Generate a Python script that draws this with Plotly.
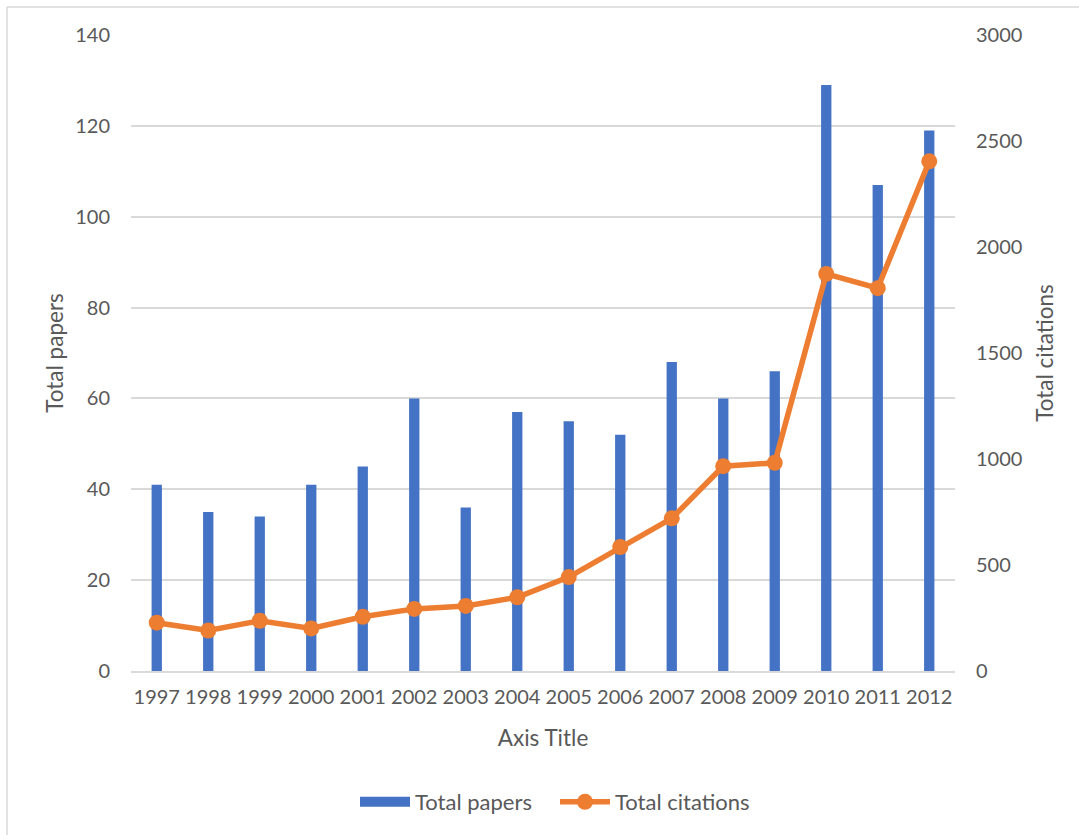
import plotly.graph_objects as go

years = ["1997", "1998", "1999", "2000", "2001", "2002", "2003", "2004",
         "2005", "2006", "2007", "2008", "2009", "2010", "2011", "2012"]
total_papers = [41, 35, 34, 41, 45, 60, 36, 57, 55, 52, 68, 60, 66, 129, 107, 119]
total_citations = [228, 191, 237, 201, 256, 293, 307, 348, 443, 585, 720, 966, 982, 1873, 1806, 2404]

FONT = "Lato"
GRAY = "#595959"
GRID = "#d9d9d9"
BLUE = "#4472C4"
ORANGE = "#ED7D31"
FS = 20
TFS = 22.5
LFS = 22

fig = go.Figure()
fig.add_trace(go.Bar(
    x=years, y=total_papers, name="Total papers",
    marker=dict(color=BLUE, line=dict(width=0)),
    yaxis="y", showlegend=False,
))
# legend-only stand-in so the legend swatch is a wide rectangle
fig.add_trace(go.Scatter(
    x=years, y=[None] * len(years), name="Total papers",
    mode="lines", line=dict(color=BLUE, width=13),
    yaxis="y", hoverinfo="skip",
))
fig.add_trace(go.Scatter(
    x=years, y=total_citations, name="Total citations",
    mode="lines+markers",
    line=dict(color=ORANGE, width=5.5),
    marker=dict(color=ORANGE, size=16),
    yaxis="y2",
))

W, H = 1079, 835
L, R, T, B = 131, 124, 35, 164
pw, ph = W - L - R, H - T - B

def px_x(p):
    return (p - L) / pw

def px_y(p):
    return (H - B - p) / ph

fig.update_layout(
    width=W, height=H,
    margin=dict(l=L, r=R, t=T, b=B, autoexpand=False),
    paper_bgcolor="white", plot_bgcolor="white",
    font=dict(family=FONT, color=GRAY, size=FS),
    bargap=0.8,
    showlegend=True,
    legend=dict(orientation="h", x=px_x(355), xanchor="left", y=px_y(802), yanchor="middle",
                font=dict(size=LFS, color=GRAY), itemwidth=50, tracegroupgap=0,
                entrywidth=135),
    xaxis=dict(
        type="category", range=[-0.5, len(years) - 0.5], autorange=False,
        showgrid=False, showline=True, linecolor=GRID, linewidth=1.5,
        ticks="", tickangle=0, ticklabelstandoff=7,
        tickfont=dict(size=FS, color=GRAY), automargin=False,
        title=dict(text="Axis Title", font=dict(size=TFS, color=GRAY), standoff=23),
    ),
    yaxis=dict(
        range=[0, 140], dtick=20, showgrid=True, gridcolor=GRID, gridwidth=1.5,
        zeroline=False, showline=False, ticks="", ticklabelstandoff=20,
        tickfont=dict(size=FS, color=GRAY), automargin=False,
        title=dict(text="Total papers", font=dict(size=TFS, color=GRAY), standoff=5),
    ),
    yaxis2=dict(
        range=[0, 3000], dtick=500, overlaying="y", side="right", showgrid=False,
        zeroline=False, showline=False, ticks="", ticklabelstandoff=20,
        tickfont=dict(size=FS, color=GRAY), automargin=False,
        title=dict(text="Total citations", font=dict(size=TFS, color=GRAY), standoff=15),
    ),
    shapes=[
        dict(type="line", xref="paper", yref="paper", x0=px_x(7), x1=px_x(1085),
             y0=px_y(7), y1=px_y(7), line=dict(color=GRID, width=1.5)),
        dict(type="line", xref="paper", yref="paper", x0=px_x(7), x1=px_x(7),
             y0=px_y(7), y1=px_y(845), line=dict(color=GRID, width=1.5)),
    ],
)

fig.write_html("out.html", config={"displayModeBar": False},
               post_script="document.body.style.margin='0';")
